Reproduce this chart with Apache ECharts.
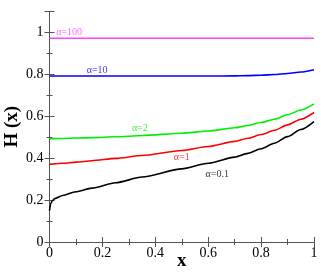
<!DOCTYPE html>
<html><head><meta charset="utf-8">
<script src="https://cdn.jsdelivr.net/npm/echarts@6/dist/echarts.min.js"></script>
<style>html,body{margin:0;padding:0;background:#fff}#c{width:331px;height:273px}</style>
</head><body><div id="c"></div>
<script>
const xs = [0, 0.005, 0.01, 0.02, 0.05, 0.1, 0.16, 0.25, 0.35, 0.5, 0.6, 0.7, 0.75, 0.8, 0.85, 0.9, 0.95, 1.0];
const h01 = [0.15, 0.185, 0.196, 0.207, 0.222, 0.240, 0.257, 0.283, 0.310, 0.349, 0.376, 0.405, 0.423, 0.445, 0.471, 0.503, 0.537, 0.575];
const h1  = [0.371, 0.3715, 0.372, 0.373, 0.376, 0.381, 0.388, 0.399, 0.413, 0.437, 0.456, 0.480, 0.495, 0.513, 0.533, 0.559, 0.586, 0.618];
const h2  = [0.493, 0.493, 0.493, 0.4935, 0.494, 0.496, 0.498, 0.502, 0.508, 0.519, 0.530, 0.545, 0.556, 0.570, 0.586, 0.607, 0.630, 0.659];
const h10 = [0.792, 0.792, 0.792, 0.792, 0.792, 0.792, 0.792, 0.792, 0.792, 0.792, 0.792, 0.793, 0.794, 0.796, 0.799, 0.804, 0.811, 0.822];
const h100 = [0.972, 0.972, 0.972, 0.972, 0.972, 0.972, 0.972, 0.972, 0.972, 0.972, 0.972, 0.972, 0.972, 0.972, 0.972, 0.972, 0.972, 0.972];
const labelTexts = ['α=100', 'α=10', 'α=2', 'α=1', 'α=0.1'];
const labelX = [0.074, 0.18, 0.342, 0.50, 0.634];
const labelY = [1.002, 0.821, 0.544, 0.402, 0.325];
const colors = ['#ff44ff', '#0000ff', '#00ee00', '#ff0000', '#000000'];
const xTicks = ['0', '0.2', '0.4', '0.6', '0.8', '1'];
const seriesData = [h100, h10, h2, h1, h01];

const serif = 'Liberation Serif';
const pair = arr => xs.map((x, i) => [x, arr[i]]);
const series = seriesData.map((d, i) => ({
  type: 'line', data: pair(d), smooth: 0.25, smoothMonotone: 'x', showSymbol: false,
  lineStyle: { color: colors[i], width: 1.6 }, xAxisIndex: 0, yAxisIndex: 0, z: 3
}));
series.push({
  type: 'scatter', symbolSize: 0, xAxisIndex: 0, yAxisIndex: 0,
  data: labelTexts.map((t, i) => ({
    value: [labelX[i], labelY[i]],
    label: { show: true, formatter: t, position: 'inside', color: colors[i], fontFamily: serif, fontSize: 10 }
  })),
  silent: true
});

const axCommon = {
  type: 'value', min: 0,
  axisLine: { show: true, lineStyle: { color: '#555', width: 1 } },
  axisTick: { show: true, inside: true, length: 5, lineStyle: { color: '#555' } },
  minorTick: { show: true, splitNumber: 2, length: 3, lineStyle: { color: '#555' } },
  splitLine: { show: false }
};
const chart = echarts.init(document.getElementById('c'));
chart.setOption({
  animation: false,
  grid: { left: 49.5, right: 17, top: 11.5, bottom: 31, containLabel: false, outerBoundsMode: 'none' },
  xAxis: [
    Object.assign({}, axCommon, { max: 1, interval: 0.2, position: 'bottom',
      name: 'x', nameLocation: 'middle', nameGap: 10, nameMoveOverlap: false,
      nameTextStyle: { fontFamily: serif, fontSize: 19, fontWeight: 'bold', color: '#000' },
      axisLabel: { fontFamily: serif, fontSize: 14, color: '#000', margin: 4,
        formatter: v => xTicks[Math.round(v / 0.2)] } }),
    Object.assign({}, axCommon, { max: 1, interval: 0.2, position: 'top', axisLabel: { show: false } })
  ],
  yAxis: [
    Object.assign({}, axCommon, { max: 1.1, interval: 0.2, position: 'left',
      name: 'H (x)', nameLocation: 'middle', nameGap: 28, nameMoveOverlap: false,
      nameTextStyle: { fontFamily: serif, fontSize: 19, fontWeight: 'bold', color: '#000' },
      axisLabel: { fontFamily: serif, fontSize: 14, color: '#000', margin: 6, showMaxLabel: false,
        formatter: v => (Math.round(v * 10) / 10).toString() } }),
    Object.assign({}, axCommon, { max: 1.1, interval: 0.2, position: 'right', axisLabel: { show: false } })
  ],
  series: series
});
</script></body></html>
